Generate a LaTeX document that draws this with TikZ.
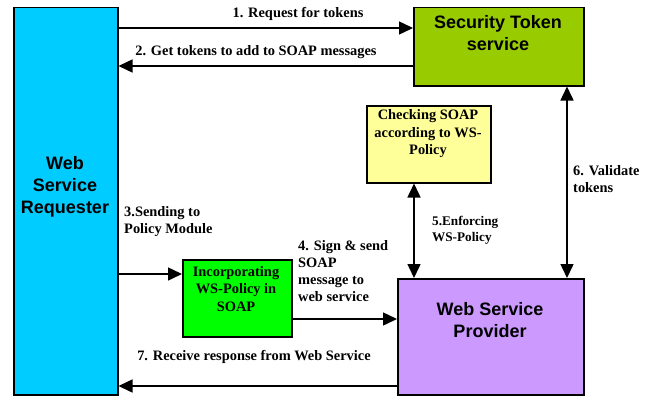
\documentclass[tikz,border=0pt]{standalone}
\usepackage{fontspec}
\setmainfont{Liberation Serif}
\newfontfamily\titlefont{Liberation Sans}
\usetikzlibrary{arrows.meta}

\definecolor{reqblue}{HTML}{00CCFF}
\definecolor{stsgreen}{HTML}{99CC00}
\definecolor{chkyellow}{HTML}{FFFF99}
\definecolor{incgreen}{HTML}{00FF00}
\definecolor{provpurple}{HTML}{CC99FF}

\begin{document}
\begin{tikzpicture}[x=1pt,y=-1pt,
  box/.style={draw=black, line width=1.5pt, inner sep=0pt, anchor=north west},
  title/.style={font=\titlefont\bfseries\fontsize{18}{22}\selectfont, align=center, inner sep=0pt},
  inbox/.style={font=\bfseries\fontsize{14.4}{17.5}\selectfont, align=center, inner sep=0pt},
  lbl/.style={font=\bfseries\fontsize{14.4}{17}\selectfont, align=left, inner sep=0pt},
  tip/.tip={Triangle[length=14pt,width=13pt]},
  arr/.style={line width=1.5pt, -tip},
  darr/.style={line width=1.5pt, tip-tip},
]
\useasboundingbox (0,0) rectangle (652,396);

% boxes
\node[box, fill=reqblue, minimum width=104pt, minimum height=387pt] (req) at (13,7) {};
\node[box, fill=stsgreen, minimum width=170pt, minimum height=78pt] (sts) at (413,7) {};
\node[box, fill=chkyellow, minimum width=124pt, minimum height=77pt] (chk) at (366,105) {};
\node[box, fill=incgreen, minimum width=109pt, minimum height=77pt] (inc) at (182,259) {};
\node[box, fill=provpurple, minimum width=186pt, minimum height=116pt] (prov) at (397,278) {};

% box texts
\node[title] (reqtxt) at (65,187) {Web\\Service\\Requester};
\node[title] (ststxt) at (498,33) {Security Token\\service};
\node[title] (provtxt) at (490,320) {Web Service\\Provider};
\node[inbox] (chktxt) at (428,134) {Checking SOAP\\according to WS-\\Policy};
\node[inbox] (inctxt) at (236,289) {Incorporating\\WS-Policy in\\SOAP};

% connectors
\draw[arr] (req.east |- 0,28) -- (sts.west |- 0,28);
\draw[arr] (sts.west |- 0,66) -- (req.east |- 0,66);
\draw[arr] (req.east |- 0,274) -- (inc.west |- 0,274);
\draw[arr] (inc.east |- 0,319) -- (prov.west |- 0,319);
\draw[darr] (414,0 |- chk.south) -- (414,0 |- prov.north);
\draw[darr] (567,0 |- sts.south) -- (567,0 |- prov.north);
\draw[arr] (prov.west |- 0,386) -- (req.east |- 0,386);

% connector labels
\node[lbl] (l1) at (298,14) {1. Request for tokens};
\node[lbl] (l2) at (256,52) {2. Get tokens to add to SOAP messages};
\node[lbl, anchor=west] (l3) at (124,222) {3.Sending to\\Policy Module};
\node[lbl, anchor=west] (l4) at (298,271) {4. Sign \& send\\SOAP\\message to\\web service};
\node[lbl, anchor=west, font=\bfseries\fontsize{13.2}{16}\selectfont] (l5) at (432,230) {5.Enforcing\\WS-Policy};
\node[lbl, anchor=west] (l6) at (573,179) {6. Validate\\tokens};
\node[lbl] (l7) at (254,357) {7. Receive response from Web Service};
\end{tikzpicture}
\end{document}
